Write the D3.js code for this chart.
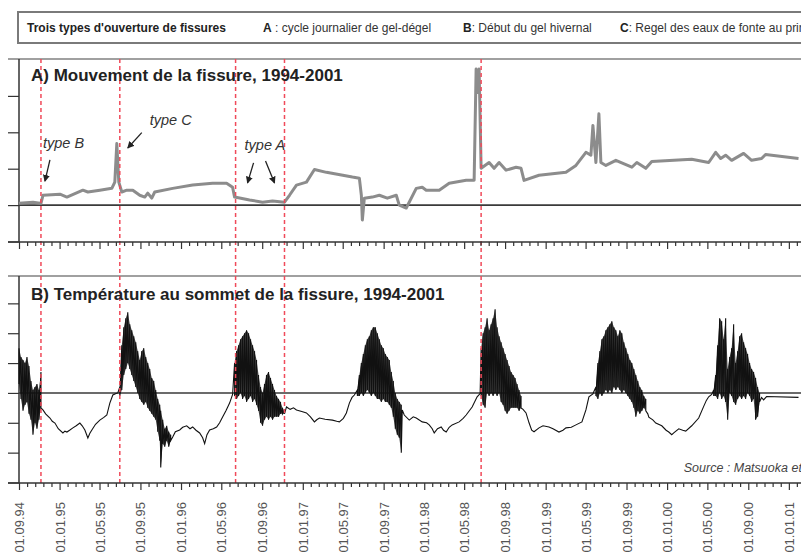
<!DOCTYPE html>
<html>
<head>
<meta charset="utf-8">
<script src="https://cdn.jsdelivr.net/npm/d3@7"></script>
<style>
body { margin: 0; background: #fff; }
svg { display: block; font-family: "Liberation Sans", Arial, sans-serif; }
</style>
</head>
<body>
<svg id="canvas" width="801" height="558"></svg>
<script>
// time = days since 01.09.94
let legendTitle = "Trois types d'ouverture de fissures"
let legendKeys = ['A', 'B', 'C']
let legendSeps = [' : ', ': ', ': ']
let legendTexts = ['cycle journalier de gel-dégel', 'Début du gel hivernal', 'Regel des eaux de fonte au printemps']

let titleA = 'A) Mouvement de la fissure, 1994-2001'
let titleB = 'B) Température au sommet de la fissure, 1994-2001'
let sourceText = 'Source : Matsuoka et al.'

// opening events (red dashed lines)
let openingDays = [66, 303, 651, 798, 1389]

let typeLabels = ['type B', 'type C', 'type A']
let typeLabelPos = [[72, 1.57], [393, 2.2], [678, 1.52]]
let typeArrows = [[93, 1.24, 78, 0.66], [369, 1.99, 327, 1.57], [705, 1.16, 687, 0.61], [741, 1.21, 768, 0.61]]

let yTicksA = [-1, 0, 1, 2, 3]
let yTicksB = [-30, -20, -10, 0, 10, 20, 30]

// fissure movement [day, value]
let movement = [
    [0,0.05],[42,0.08],[63,0.05],[66,0.05],[72,0.27],[123,0.30],[144,0.22],[192,0.41],[207,0.36],[243,0.41],
    [279,0.46],[288,0.63],[294,1.69],[300,0.63],[309,0.36],[324,0.41],[342,0.41],[363,0.27],[378,0.22],[387,0.33],
    [399,0.19],[408,0.36],[462,0.46],[522,0.55],[582,0.60],[624,0.60],[642,0.49],[648,0.22],[693,0.14],[732,0.08],
    [762,0.11],[798,0.08],[813,0.27],[834,0.55],[864,0.63],[888,0.98],[924,0.90],[1002,0.77],[1023,0.74],[1029,0.27],
    [1032,-0.41],[1038,0.19],[1062,0.22],[1083,0.27],[1107,0.19],[1134,0.27],[1143,0],[1164,-0.08],[1194,0.46],[1212,0.49],
    [1224,0.41],[1263,0.41],[1293,0.60],[1344,0.68],[1368,0.68],[1374,3.74],[1377,3.09],[1383,3.74],[1389,1.01],[1413,1.17],
    [1428,1.01],[1443,1.17],[1464,0.96],[1494,1.04],[1509,1.01],[1518,0.68],[1563,0.82],[1644,0.90],[1674,1.09],[1704,1.45],
    [1719,1.37],[1725,2.19],[1734,1.17],[1743,2.51],[1749,1.17],[1764,1.09],[1794,1.23],[1842,1.04],[1857,1.17],[1884,1.01],
    [1902,1.20],[2022,1.26],[2073,1.17],[2094,1.45],[2109,1.28],[2124,1.37],[2142,1.23],[2178,1.42],[2202,1.23],[2232,1.28],
    [2244,1.39],[2343,1.28]
]

// temperature: [day, t] or [day, high, low] in the daily-cycle periods
let temperature = [
    [0,15,3],[6,12,-2],[12,11,-6],[18,10,-4],[24,12,-3],[30,9,-7],[36,4,-9],[42,1,-14],[48,2,-10],[54,3,-12],[60,1,-9],[66,7,-5],
    [72,-5.7],[80,-7],[93,-8.4],[100,-9.5],[108,-10.1],[118,-12],[132,-13.4],[138,-12.8],[144,-13.1],[152,-12.5],[162,-11.7],
    [172,-11],[183,-10.1],[190,-11],[198,-12.4],[207,-15.1],[213,-13.5],[219,-12.4],[230,-10.5],[243,-9.1],[255,-8.2],
    [264,-7.4],[273,-3.4],[282,-0.7],[290,-0.3],[297,0],
    [303,2,-1],[309,16,1],[315,22,6],[321,25,8],[327,27,10],[333,23,8],[339,21,6],[345,19,4],[351,17,2],[357,14,0],
    [363,11,-2],[369,14,-3],[375,15,-4],[381,12,-3],[387,10,-5],[393,8,-6],[399,5,-7],[405,4,-8],[411,1,-9],[417,-2,-13],
    [423,-4,-16],[426,-6,-25],[432,-9,-17],[438,-12,-18],[444,-11,-16],[450,-13,-18],[456,-14,-16],
    [462,-14.8],[470,-13],[483,-12.4],[492,-11.5],[504,-11],[514,-12],[522,-11.4],[532,-12.5],[543,-13.4],[552,-15],
    [558,-17],[565,-14],[573,-12.4],[584,-12],[594,-11.4],[603,-10],[612,-8.1],[622,-6],[633,-3.4],[642,-0.5],
    [648,10,-1],[654,14,-2],[660,16,-1],[666,18,0],[672,19,-2],[678,20,-1],[684,21,-3],[690,20,-2],[696,18,-1],[702,16,-3],
    [708,14,-2],[714,11,-4],[720,6,-6],[726,2,-10],[732,0,-11],[738,3,-9],[744,6,-8],[750,7,-9],[756,5,-8],[762,3,-9],
    [768,1,-8],[774,-1,-8],[780,-2,-8],[786,-3,-7],[792,-5,-7],[798,-6,-7],
    [804,-4.7],[815,-5.5],[825,-5],[834,-5.7],[850,-6.2],[864,-6.7],[876,-8],[888,-9.7],[895,-9],[903,-8.4],[920,-8.8],
    [942,-9.1],[955,-9.5],[963,-9.7],[975,-8.5],[984,-6.7],[993,-3.4],[1001,-1.5],[1008,-0.7],
    [1017,1,-1],[1023,6,-1],[1029,10,0],[1035,13,-1],[1041,16,0],[1047,18,1],[1053,19,0],[1059,21,-1],[1065,22,0],[1071,22,-1],
    [1077,20,-2],[1083,18,-2],[1089,16,-3],[1095,15,-2],[1101,13,-3],[1107,12,-3],[1113,11,-4],[1119,7,-5],[1125,4,-8],
    [1131,0,-12],[1137,-2,-14],[1143,-3,-15],[1149,-4,-20],
    [1152,-5.7],[1158,-7.4],[1173,-9.1],[1185,-8],[1194,-8.4],[1212,-9.7],[1225,-10],[1233,-10.7],[1242,-12],[1248,-13.4],
    [1258,-12],[1269,-11.4],[1276,-12.5],[1284,-13.1],[1293,-11.5],[1302,-10.7],[1323,-9.7],[1335,-8.5],[1344,-7.4],
    [1362,-4.7],[1377,-1.3],[1386,-0.2],
    [1389,15,-1],[1395,20,-4],[1401,22,-5],[1407,25,0],[1413,21,-1],[1419,23,0],[1425,25,-1],[1431,28,0],[1437,22,-1],
    [1443,19,0],[1449,17,-3],[1455,15,-4],[1461,13,-6],[1467,11,-7],[1473,9,-6],[1479,7,-5],[1485,6,-5],[1491,5,-5],
    [1497,3,-5],[1503,1,-6],[1509,-1,-5],
    [1515,-5.5],[1524,-6.7],[1533,-10],[1541,-12.5],[1548,-13],[1563,-11.7],[1575,-11],[1593,-11.4],[1605,-12],[1623,-13.1],
    [1635,-12.5],[1644,-11.7],[1660,-11.5],[1674,-10.7],[1692,-9.7],[1704,-5.7],[1713,-1.3],[1725,-0.3],
    [1734,2,-1],[1740,10,-2],[1746,14,0],[1752,18,-1],[1758,19,0],[1764,21,1],[1770,22,0],[1776,23,1],[1782,24,0],[1788,22,2],
    [1794,21,1],[1800,19,2],[1806,21,1],[1812,20,0],[1818,17,1],[1824,15,0],[1830,13,-1],[1836,11,-2],[1842,10,-3],
    [1848,8,-5],[1854,6,-8],[1860,4,-6],[1866,2,-7],[1872,1,-6],[1878,-1,-5],[1884,-2,-6],
    [1890,-7],[1893,-8.1],[1905,-9],[1914,-10.1],[1932,-11],[1945,-12.5],[1953,-13.1],[1962,-14],[1968,-13.4],[1983,-12],
    [1995,-12.5],[2004,-12.8],[2022,-11],[2043,-8.4],[2058,-4.5],[2066,-2.5],[2073,-1.3],[2082,-0.5],
    [2088,1,-1],[2094,6,-1],[2100,16,-2],[2106,25,0],[2112,24,-2],[2118,18,-1],[2124,25,-3],[2130,8,-9],[2136,12,0],
    [2142,15,-1],[2148,23,-3],[2154,10,-4],[2160,14,-2],[2166,19,-1],[2172,20,-2],[2178,17,-1],[2184,15,-2],[2190,13,0],
    [2196,10,-1],[2202,8,-3],[2208,7,-2],[2214,5,-9],[2220,2,-8],[2226,0,-3],
    [2232,-1.5],[2238,-2.3],[2247,-1.2],[2343,-1.5]
]

let canvas = d3.select('#canvas')
let W = 801

let day0 = new Date(1994, 8, 1)
let dayEnd = new Date(2001, 4, 1)
let toDate = (d) => d3.timeDay.offset(day0, d)

let x = d3.scaleTime()
    .domain([day0, dayEnd])
    .range([19, 19 + d3.timeDay.count(day0, dayEnd) * 0.3327])
let yA = d3.scaleLinear().domain([-1, 4]).range([241.5, 59.5])
let yB = d3.scaleLinear().domain([-30, 40]).range([482.5, 273.5])

let allMajor = x.ticks(d3.timeMonth.every(4))
let minorTicks = []
allMajor.slice(1).forEach((t, i) => {
    let a = +allMajor[i], b = +t
    for (let k = 1; k < 5; k++) minorTicks.push(new Date(a + (b - a) * k / 5))
})
let majorTicks = allMajor.filter(t => x(t) <= W)
minorTicks = minorTicks.filter(t => x(t) <= W)

// legend
let drawLegend = () => {
    canvas.append('rect')
        .attr('x', 18).attr('y', 12).attr('width', 820).attr('height', 31)
        .attr('fill', '#fff').attr('stroke', '#7a7a7a').attr('stroke-width', 2)
    canvas.append('text')
        .attr('x', 27).attr('y', 31.5)
        .attr('font-size', 12).attr('font-weight', 'bold').attr('fill', '#222')
        .text(legendTitle)
    let legendX = [263, 463, 620]
    legendKeys.forEach((k, i) => {
        let t = canvas.append('text')
            .attr('x', legendX[i]).attr('y', 31.5)
            .attr('font-size', 12).attr('fill', '#333')
        t.append('tspan').attr('font-weight', 'bold').attr('fill', '#222').text(k)
        t.append('tspan').text(legendSeps[i] + legendTexts[i])
    })
}

let drawFrame = (top, bottom, y, ticks) => {
    canvas.append('line')
        .attr('x1', 8).attr('x2', W).attr('y1', top).attr('y2', top)
        .attr('stroke', '#808080').attr('stroke-width', 1.5)
    canvas.append('line')
        .attr('x1', 19).attr('x2', 19).attr('y1', top).attr('y2', bottom)
        .attr('stroke', '#333').attr('stroke-width', 1.5)
    canvas.append('g')
        .attr('transform', 'translate(19,0)')
        .call(d3.axisLeft(y).tickValues(ticks).tickSize(11).tickFormat(''))
        .call(g => g.select('.domain').remove())
        .call(g => g.selectAll('line').attr('stroke', '#333').attr('stroke-width', 1.2))
    canvas.append('line')
        .attr('x1', 19).attr('x2', W).attr('y1', y(0)).attr('y2', y(0))
        .attr('stroke', '#3a3a3a').attr('stroke-width', 1.6)
}

let drawTimeAxis = (yPos, withLabels) => {
    let g = canvas.append('g').attr('transform', `translate(0,${yPos})`)
    g.call(d3.axisBottom(x).tickValues(minorTicks).tickSize(4).tickFormat(''))
    g.select('.domain').remove()
    let gm = canvas.append('g').attr('transform', `translate(0,${yPos})`)
    gm.call(d3.axisBottom(x).tickValues(majorTicks).tickSize(7).tickFormat(d3.timeFormat('%d.%m.%y')))
    gm.select('.domain').remove()
    canvas.selectAll('g.tick line').attr('stroke', '#333').attr('stroke-width', 1.2)
    if (withLabels) {
        gm.selectAll('text')
            .attr('transform', 'rotate(-90)')
            .attr('text-anchor', 'end')
            .attr('x', -19).attr('y', 0).attr('dy', '0.35em')
            .attr('font-size', 13).attr('fill', '#555')
            .attr('font-family', '"Liberation Sans", Arial, sans-serif')
    } else {
        gm.selectAll('text').remove()
    }
    canvas.append('line')
        .attr('x1', 8).attr('x2', W).attr('y1', yPos).attr('y2', yPos)
        .attr('stroke', '#333').attr('stroke-width', 1.5)
}

let drawData = () => {
    let lineA = d3.line()
        .x(d => x(toDate(d[0])))
        .y(d => yA(d[1]))
    canvas.append('path')
        .datum(movement)
        .attr('d', lineA)
        .attr('fill', 'none').attr('stroke', '#8c8c8c').attr('stroke-width', 3)
        .attr('stroke-linejoin', 'round')

    // daily-cycle envelope
    let bandB = d3.area()
        .defined(d => d.length === 3)
        .x(d => x(toDate(d[0])))
        .y0(d => yB(d[2]))
        .y1(d => yB(d[1]))
    canvas.append('path')
        .datum(temperature)
        .attr('d', bandB)
        .attr('fill', '#111').attr('fill-opacity', 0.8)

    let tempPoints = []
    temperature.forEach(r => {
        if (r.length === 3) {
            tempPoints.push([r[0], r[1]])
            tempPoints.push([r[0], r[2]])
        } else {
            tempPoints.push(r)
        }
    })
    let lineB = d3.line()
        .x(d => x(toDate(d[0])))
        .y(d => yB(d[1]))
    canvas.append('path')
        .datum(tempPoints)
        .attr('d', lineB)
        .attr('fill', 'none').attr('stroke', '#111').attr('stroke-width', 1.1)
}

let drawOpenings = () => {
    canvas.selectAll('line.opening')
        .data(openingDays)
        .enter()
        .append('line')
        .attr('class', 'opening')
        .attr('x1', d => x(toDate(d))).attr('x2', d => x(toDate(d)))
        .attr('y1', 59).attr('y2', 483)
        .attr('stroke', '#f04a5a').attr('stroke-width', 1.5)
        .attr('stroke-dasharray', '4,3')
}

let drawNotes = () => {
    canvas.append('text')
        .attr('x', 31).attr('y', 81)
        .attr('font-size', 17).attr('font-weight', 'bold').attr('fill', '#222')
        .text(titleA)
    canvas.append('text')
        .attr('x', 31).attr('y', 300)
        .attr('font-size', 17).attr('font-weight', 'bold').attr('fill', '#222')
        .text(titleB)

    canvas.append('defs').append('marker')
        .attr('id', 'head')
        .attr('viewBox', '0 0 8 8')
        .attr('refX', 7).attr('refY', 4)
        .attr('markerWidth', 7).attr('markerHeight', 7)
        .attr('markerUnits', 'userSpaceOnUse')
        .attr('orient', 'auto')
        .append('path').attr('d', 'M0,0 L8,4 L0,8 z').attr('fill', '#222')

    canvas.selectAll('text.type')
        .data(typeLabels)
        .enter()
        .append('text')
        .attr('class', 'type')
        .attr('x', (d, i) => x(toDate(typeLabelPos[i][0])))
        .attr('y', (d, i) => yA(typeLabelPos[i][1]))
        .attr('font-size', 14.5).attr('font-style', 'italic').attr('fill', '#333')
        .text(d => d)

    canvas.selectAll('line.arrow')
        .data(typeArrows)
        .enter()
        .append('line')
        .attr('class', 'arrow')
        .attr('x1', d => x(toDate(d[0]))).attr('y1', d => yA(d[1]))
        .attr('x2', d => x(toDate(d[2]))).attr('y2', d => yA(d[3]))
        .attr('stroke', '#222').attr('stroke-width', 1.3)
        .attr('marker-end', 'url(#head)')

    canvas.append('text')
        .attr('x', x(toDate(1998))).attr('y', yB(-26.5))
        .attr('font-size', 12.5).attr('font-style', 'italic').attr('fill', '#444')
        .text(sourceText)
}

drawLegend()
drawFrame(59, 242, yA, yTicksA)
drawFrame(276, 483, yB, yTicksB)
drawData()
drawOpenings()
drawTimeAxis(242, false)
drawTimeAxis(483, true)
drawNotes()
</script>
</body>
</html>
